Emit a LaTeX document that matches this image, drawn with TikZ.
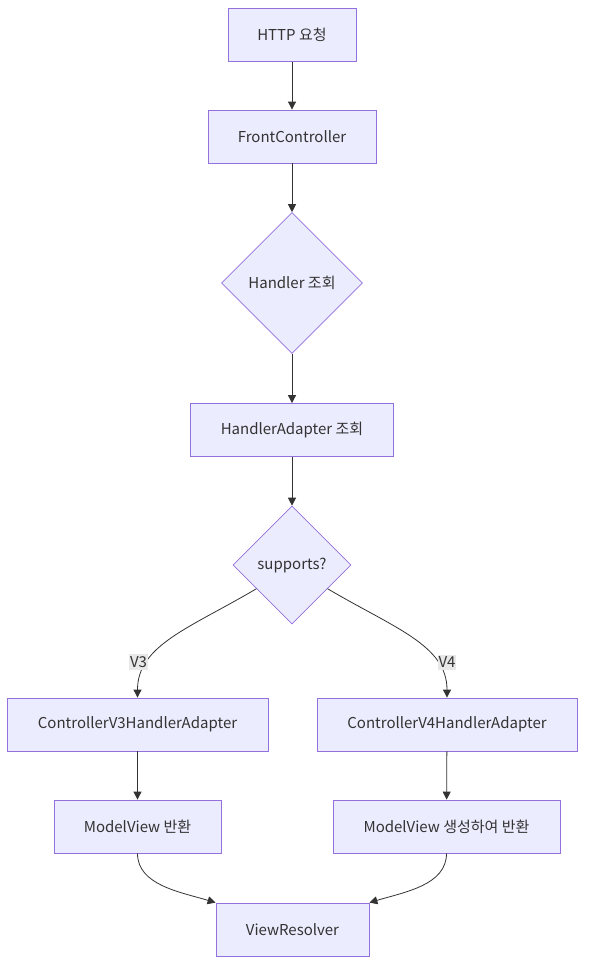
\documentclass[tikz,border=0pt]{standalone}
\usepackage{fontspec}
\setmainfont{Noto Sans CJK KR}
\usetikzlibrary{shapes.geometric, arrows.meta, calc}
\definecolor{nodefill}{HTML}{ECECFF}
\definecolor{nodeline}{HTML}{9370DB}
\definecolor{ink}{HTML}{333333}
\definecolor{lblbg}{HTML}{E8E8E8}

\begin{document}
\begin{tikzpicture}[x=1pt, y=-1pt,
  every node/.style={font=\fontsize{15}{18}\selectfont, text=ink},
  box/.style={draw=nodeline, fill=nodefill, line width=0.8pt, minimum height=53pt, inner sep=0pt},
  decide/.style={diamond, aspect=1, draw=nodeline, fill=nodefill, line width=0.6pt, inner sep=0pt},
  flow/.style={draw=ink, line width=0.8pt, -{Triangle[length=8pt,width=8pt]}},
  lbl/.style={fill=lblbg, inner xsep=1pt, inner ysep=2pt}]
  \useasboundingbox (0,0) rectangle (593,978);
  % main column
  \node[box, minimum width=128pt] (req) at (292,35) {HTTP 요청};
  \node[box, minimum width=168pt] (front) at (292,136.5) {FrontController};
  \node[decide, minimum width=141pt, minimum height=141pt] (hfind) at (292,283) {Handler 조회};
  \node[box, minimum width=203pt] (hadapt) at (292,430) {HandlerAdapter 조회};
  \node[decide, minimum width=118pt, minimum height=118pt] (sup) at (292,565) {supports?};
  % two branches
  \node[box, minimum width=261pt] (c3) at (137.5,724.5) {ControllerV3HandlerAdapter};
  \node[box, minimum width=260pt] (c4) at (447,724.5) {ControllerV4HandlerAdapter};
  \node[box, minimum width=167pt] (mv3) at (137.5,826.5) {ModelView 반환};
  \node[box, minimum width=227pt] (mv4) at (446.5,826.5) {ModelView 생성하여 반환};
  \node[box, minimum width=153pt] (vr) at (292.5,929.5) {ViewResolver};

  \draw[flow] (req) -- (front);
  \draw[flow] (front) -- (hfind);
  \draw[flow] (hfind) -- (hadapt);
  \draw[flow] (hadapt) -- (sup);
  \draw[flow] ($(sup.west)!0.4!(sup.south)$) .. controls (190,628) and (137.5,645) .. (c3.north);
  \draw[flow] ($(sup.east)!0.4!(sup.south)$) .. controls (394,628) and (447,645) .. (c4.north);
  \node[lbl] (v3) at (138.5,662) {V3};
  \node[lbl] (v4) at (447,662) {V4};
  \draw[flow] (c3) -- (mv3);
  \draw[flow] (c4) -- (mv4);
  \draw[flow] (mv3.south) .. controls (137.5,885) and (180,892) .. (vr.north west);
  \draw[flow] (mv4.south) .. controls (446.5,885) and (405,892) .. (vr.north east);
\end{tikzpicture}
\end{document}
